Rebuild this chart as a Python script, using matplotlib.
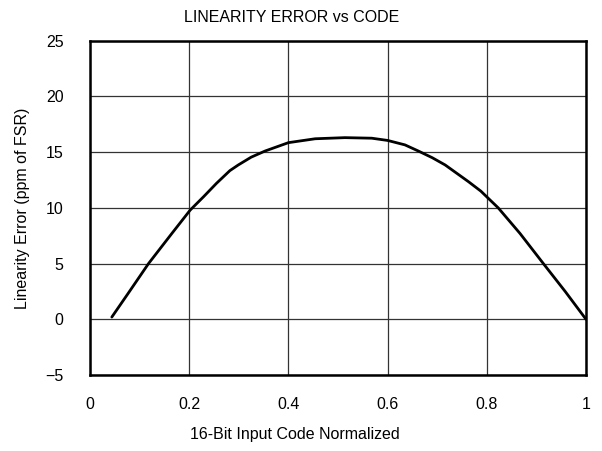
import matplotlib
matplotlib.use("Agg")
import matplotlib.pyplot as plt

plt.rcParams['font.family'] = ['Liberation Sans', 'DejaVu Sans']

code = [0.044, 0.077, 0.118, 0.165, 0.202, 0.229, 0.255, 0.282, 0.299, 0.325,
        0.353, 0.400, 0.454, 0.514, 0.568, 0.600, 0.635, 0.662, 0.690, 0.716,
        0.763, 0.788, 0.823, 0.867, 0.914, 0.958, 1.000]
error = [0.2, 2.33, 5.0, 7.7, 9.8, 11.0, 12.2, 13.34, 13.85, 14.55,
         15.1, 15.85, 16.2, 16.3, 16.25, 16.05, 15.65, 15.1, 14.5, 13.85,
         12.35, 11.5, 10.0, 7.7, 5.0, 2.5, 0.0]

xticks = [0, 0.2, 0.4, 0.6, 0.8, 1.0]
xticklabels = ['0', '0.2', '0.4', '0.6', '0.8', '1']
yticks = [-5, 0, 5, 10, 15, 20, 25]
yticklabels = ['\u22125', '0', '5', '10', '15', '20', '25']

W, H = 602, 451
fig = plt.figure(figsize=(W/100, H/100), dpi=100)
ax = fig.add_axes([90/W, 1-375/H, 496/W, (375-40.7)/H])

ax.plot(code, error, color='black', lw=2.0, solid_capstyle='round',
        solid_joinstyle='round')
ax.set_xlim(0, 1)
ax.set_ylim(-5, 25)
ax.set_xticks(xticks)
ax.set_xticklabels(xticklabels)
ax.set_yticks(yticks)
ax.set_yticklabels(yticklabels)
ax.grid(True, color='#333333', lw=0.9)
ax.set_axisbelow(True)
ax.tick_params(axis='both', length=0, labelsize=11.5)
ax.tick_params(axis='x', pad=15.5)
ax.tick_params(axis='y', pad=19)
for s in ax.spines.values():
    s.set_linewidth(1.8)
    s.set_color('black')

fig.text(292/W, 1-17/H, 'LINEARITY ERROR vs CODE', fontsize=11.5,
         ha='center', va='center')
fig.text(294.5/W, 1-434/H, '16-Bit Input Code Normalized', fontsize=11.5,
         ha='center', va='center')
ax.set_ylabel('Linearity Error (ppm of FSR)', fontsize=11.5, labelpad=11)

fig.savefig('out.png', dpi=100)
